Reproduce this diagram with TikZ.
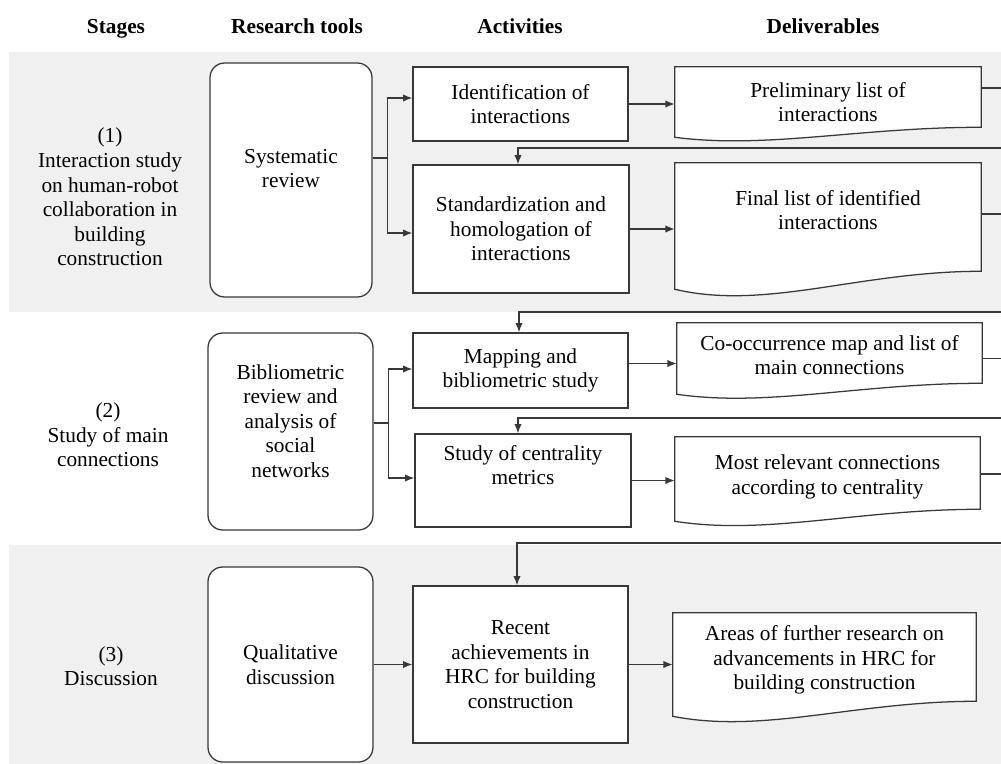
\documentclass[tikz,border=0pt]{standalone}
\usepackage{fontspec}
\setmainfont{Liberation Serif}
\usetikzlibrary{arrows.meta}
\definecolor{bandgray}{HTML}{F0F0F0}
\definecolor{ink}{HTML}{383838}
\newcommand{\docpath}[3]{\draw[docline] (#1.south west) -- (#1.north west) -- (#1.north east) -- ([shift={(0,-#2)}]#1.south east) .. controls ([shift={(-0.4*#3,-#2)}]#1.south east) and ([shift={(0.3*#3,1.2*#2)}]#1.south west) .. (#1.south west) -- cycle;}
\begin{document}
\begin{tikzpicture}[x=0.75pt,y=-0.75pt,
  every node/.style={font=\fontsize{16}{18.4}\selectfont, text=black, inner sep=0pt},
  txt/.style={align=center},
  hdr/.style={font=\fontsize{16}{18.4}\selectfont\bfseries, anchor=base},
  toolbox/.style={draw=ink, line width=0.95pt, fill=white, rounded corners=11pt, align=center},
  actbox/.style={draw=ink, line width=0.95pt, fill=white, align=center},
  docbox/.style={draw=none},
  docline/.style={draw=ink, line width=0.95pt, fill=white},
  conn/.style={draw=ink, line width=0.95pt},
  arr/.style={conn, -{Latex[length=7pt,width=5.5pt]}}
]
\useasboundingbox (0,0) rectangle (1001,764);
\clip (0,0) rectangle (1001,764);
% bands
\fill[bandgray] (9,52) rectangle (1001,312);
\fill[bandgray] (9,545) rectangle (1001,764);
% headers
\node[hdr] (hStages) at (116,33) {Stages};
\node[hdr] (hTools) at (297,33) {Research tools};
\node[hdr] (hAct) at (520,33) {Activities};
\node[hdr] (hDel) at (823,33) {Deliverables};
% stages
\node[txt] (st1) at (110,197) {(1)\\Interaction study\\on human-robot\\collaboration in\\building\\construction};
\node[txt] (st2) at (108,435) {(2)\\Study of main\\connections};
\node[txt] (st3) at (111,666) {(3)\\Discussion};
% tools
\node[toolbox, minimum width=121.5pt, minimum height=175.5pt] (tool1) at (291,180) {};
\node[txt] (tool1t) at (291,168.5) {Systematic\\review};
\node[toolbox, minimum width=123.75pt, minimum height=147.75pt] (tool2) at (290.5,431.5) {};
\node[txt] (tool2t) at (290.5,421) {Bibliometric\\review and\\analysis of\\social\\networks};
\node[toolbox, minimum width=123.75pt, minimum height=146.25pt] (tool3) at (290.5,664.5) {Qualitative\\discussion};
% activities
\node[actbox, minimum width=161.25pt, minimum height=55.5pt] (act1) at (520.5,104) {Identification of\\interactions};
\node[actbox, minimum width=162pt, minimum height=96pt] (act2) at (521,229) {Standardization and\\homologation of\\interactions};
\node[actbox, minimum width=161.25pt, minimum height=56.25pt] (act3) at (520.5,370.5) {Mapping and\\bibliometric study};
\node[actbox, minimum width=162pt, minimum height=69.75pt] (act4) at (523,480.5) {};
\node[txt] (act4t) at (523,465) {Study of centrality\\metrics};
\node[actbox, minimum width=161.25pt, minimum height=117.75pt] (act5) at (520.5,664.5) {Recent\\achievements in\\HRC for building\\construction};
% deliverables
\node[docbox, minimum width=229.5pt, minimum height=52.5pt] (doc1) at (828,102) {};
\docpath{doc1}{10}{306}
\node[txt] (doc1t) at (828,102) {Preliminary list of\\interactions};
\node[docbox, minimum width=229.5pt, minimum height=94.5pt] (doc2) at (828,226) {};
\docpath{doc2}{18}{306}
\node[txt] (doc2t) at (828,210) {Final list of identified\\interactions};
\node[docbox, minimum width=228.75pt, minimum height=53.25pt] (doc3) at (829.5,358.5) {};
\docpath{doc3}{11}{305}
\node[txt] (doc3t) at (829.5,355) {Co-occurrence map and list of\\main connections};
\node[docbox, minimum width=228.75pt, minimum height=63pt] (doc4) at (827.5,479) {};
\docpath{doc4}{12}{305}
\node[txt] (doc4t) at (827.5,477) {Most relevant connections\\according to centrality};
\node[docbox, minimum width=227.25pt, minimum height=77.25pt] (doc5) at (824.5,664.5) {};
\docpath{doc5}{15}{303}
\node[txt] (doc5t) at (824.5,660) {Areas of further research on\\advancements in HRC for\\building construction};
% tool -> activities
\draw[conn] ([shift={(0,-22)}]tool1.east) -- ++(15,0) coordinate (j1);
\draw[arr] (j1) |- ([shift={(0,-6)}]act1.west);
\draw[arr] (j1) |- ([shift={(0,4)}]act2.west);
\draw[conn] ([shift={(0,-8.5)}]tool2.east) -- ++(15,0) coordinate (j2);
\draw[arr] (j2) |- ([shift={(0,-1.5)}]act3.west);
\draw[arr] (j2) |- ([shift={(0,-2.5)}]act4.west);
\draw[arr] (tool3.east) -- (act5.west);
% activities -> deliverables
\draw[arr] (act1.east) -- (act1.east -| doc1.west);
\draw[arr] (act2.east) -- (act2.east -| doc2.west);
\coordinate (a3o) at ([shift={(0,-7)}]act3.east);
\draw[arr] (a3o) -- (a3o -| doc3.west);
\draw[arr] (act4.east) -- (act4.east -| doc4.west);
\draw[arr] (act5.east) -- (act5.east -| doc5.west);
% feedback loops (run off the right edge)
\coordinate (r1) at (1015,148);
\coordinate (r2) at (1015,312);
\coordinate (r3) at (1015,418);
\coordinate (r4) at (1015,543);
\draw[arr] ([shift={(0,-14)}]doc1.east) -| (r1) -| ([shift={(-3,0)}]act2.north);
\draw[arr] ([shift={(0,-12)}]doc2.east) -| (r2) -| ([shift={(-1.5,0)}]act3.north);
\draw[arr] (doc3.east) -| (r3) -| ([shift={(-5,0)}]act4.north);
\draw[arr] ([shift={(0,-5)}]doc4.east) -| (r4) -| ([shift={(-3.5,0)}]act5.north);
\end{tikzpicture}
\end{document}
